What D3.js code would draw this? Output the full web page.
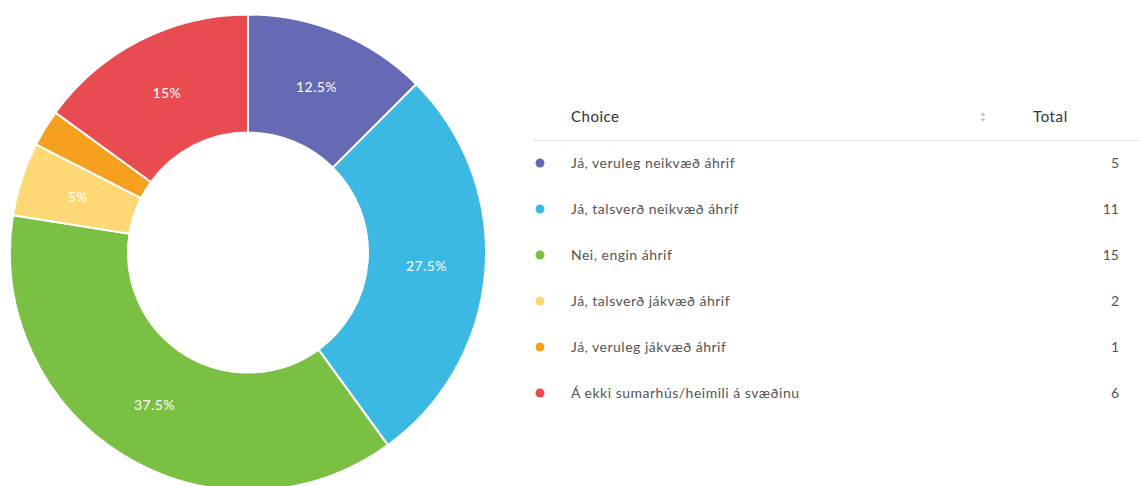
<!DOCTYPE html>
<html>
<head>
<meta charset="utf-8">
<script src="https://cdn.jsdelivr.net/npm/d3@7"></script>
<style>
  html, body { margin: 0; padding: 0; background: #fff; }
  svg { display: block; font-family: Lato, "Open Sans", sans-serif; }
</style>
</head>
<body>
<svg id="chart" width="1140" height="486"></svg>
<script>
// Survey answers and their counts
const choices = [
  "Já, veruleg neikvæð áhrif",
  "Já, talsverð neikvæð áhrif",
  "Nei, engin áhrif",
  "Já, talsverð jákvæð áhrif",
  "Já, veruleg jákvæð áhrif",
  "Á ekki sumarhús/heimili á svæðinu"
];
const totals = [5, 11, 15, 2, 1, 6];
const colors = ["#6669b4", "#3cb9e3", "#79c043", "#fdd874", "#f5a01f", "#e84b50"];
const headers = ["Choice", "Total"];

const svg = d3.select("#chart");
const sum = d3.sum(totals);
const rows = choices.map((c, i) => ({ choice: c, total: totals[i], color: colors[i] }));

// Donut
const cx = 248, cy = 252.5, outerR = 238, innerR = 120;
const pie = d3.pie().value(d => d.total).sort(null);
const arc = d3.arc().innerRadius(innerR).outerRadius(outerR);
const labelArc = d3.arc().innerRadius((innerR + outerR) / 2).outerRadius((innerR + outerR) / 2);

const g = svg.append("g").attr("transform", `translate(${cx},${cy})`);
const arcs = pie(rows);

g.selectAll("path.slice")
  .data(arcs)
  .join("path")
  .attr("class", "slice")
  .attr("d", arc)
  .attr("fill", d => d.data.color)
  .attr("stroke", "#fff")
  .attr("stroke-width", 2);

const fmt = v => {
  const p = v / sum * 100;
  return (Math.round(p * 10) / 10) + "%";
};

g.selectAll("text.pct")
  .data(arcs.filter(d => d.data.total / sum >= 0.04))
  .join("text")
  .attr("class", "pct")
  .attr("transform", d => `translate(${labelArc.centroid(d)})`)
  .attr("text-anchor", "middle")
  .attr("dy", "0.35em")
  .attr("fill", "#fff")
  .attr("font-size", 14)
  .attr("letter-spacing", 0.4)
  .text(d => fmt(d.data.total));

// Legend table
const tx = 533, tRight = 1140;
const table = svg.append("g");

table.append("text")
  .attr("x", 571).attr("y", 117).attr("dy", "0.35em")
  .attr("font-size", 15).attr("letter-spacing", 0.5).attr("fill", "#333")
  .text(headers[0]);

// sort indicator
const sortG = table.append("g").attr("transform", "translate(983,117)");
sortG.append("path").attr("d", "M-2.5,-1.5 L2.5,-1.5 L0,-4.5 Z").attr("fill", "#bbb");
sortG.append("path").attr("d", "M-2.5,1.5 L2.5,1.5 L0,4.5 Z").attr("fill", "#bbb");

table.append("text")
  .attr("x", 1033).attr("y", 117).attr("dy", "0.35em")
  .attr("font-size", 15).attr("letter-spacing", 0.6).attr("fill", "#333")
  .text(headers[1]);

table.append("line")
  .attr("x1", tx).attr("x2", tRight)
  .attr("y1", 140.5).attr("y2", 140.5)
  .attr("stroke", "#e3e3e3").attr("stroke-width", 1);

const rowY = d3.scalePoint().domain(choices).range([163, 393]);

const rowG = table.selectAll("g.row")
  .data(rows)
  .join("g")
  .attr("class", "row")
  .attr("transform", d => `translate(0,${rowY(d.choice)})`);

rowG.append("circle")
  .attr("cx", 540).attr("cy", 0).attr("r", 4.5)
  .attr("fill", d => d.color);

rowG.append("text")
  .attr("x", 571).attr("dy", "0.35em")
  .attr("font-size", 14).attr("letter-spacing", 0.5).attr("fill", "#555")
  .text(d => d.choice);

rowG.append("text")
  .attr("x", 1119).attr("dy", "0.35em")
  .attr("text-anchor", "end")
  .attr("font-size", 14).attr("fill", "#555")
  .text(d => d.total);
</script>
</body>
</html>
